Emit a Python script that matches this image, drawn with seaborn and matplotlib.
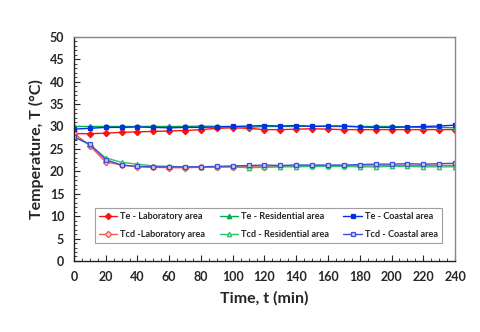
import numpy as np
import pandas as pd
import matplotlib.pyplot as plt
from matplotlib.ticker import MultipleLocator
import seaborn as sns

# Time axis (min)
time = list(range(0, 250, 10))

# Evaporator temperatures
te_lab = [28.4, 28.4, 28.5, 28.7, 28.8, 28.9, 29.0, 29.1, 29.3, 29.6, 29.7, 29.6, 29.3,
          29.3, 29.4, 29.5, 29.4, 29.3, 29.3, 29.3, 29.3, 29.3, 29.3, 29.3, 29.3]
te_res = [30.0, 30.0, 30.0, 30.0, 30.0, 30.0, 30.0, 30.0, 30.1, 30.0, 30.0, 29.8, 30.0,
          30.0, 30.0, 30.1, 30.0, 30.0, 30.0, 30.0, 30.0, 29.9, 29.8, 29.8, 29.7]
te_coast = [29.4, 29.6, 29.8, 29.8, 29.9, 29.8, 29.7, 29.8, 29.8, 29.9, 30.0, 30.1, 30.2,
            30.1, 30.2, 30.0, 30.1, 30.1, 29.9, 29.8, 29.8, 29.9, 30.0, 30.1, 30.3]

# Condenser temperatures
tcd_lab = [28.5, 25.7, 22.1, 21.4, 21.0, 20.9, 20.8, 20.8, 20.9, 20.9, 21.0, 21.0, 21.0,
           21.1, 21.2, 21.2, 21.2, 21.2, 21.2, 21.2, 21.3, 21.3, 21.3, 21.3, 21.3]
tcd_res = [27.8, 25.9, 23.0, 22.0, 21.6, 21.2, 21.1, 21.0, 21.0, 21.0, 21.0, 20.8, 20.9,
           21.0, 21.0, 21.1, 21.1, 21.1, 21.0, 21.0, 21.1, 21.1, 21.0, 21.0, 21.0]
tcd_coast = [27.6, 26.1, 22.6, 21.4, 21.1, 21.0, 21.0, 21.0, 21.0, 21.1, 21.2, 21.3, 21.4,
             21.3, 21.4, 21.4, 21.4, 21.4, 21.5, 21.6, 21.6, 21.7, 21.6, 21.7, 21.8]

labels = ['Te - Laboratory area', 'Tcd -Laboratory area',
          'Te - Residential area', 'Tcd - Residential area',
          'Te - Coastal area', 'Tcd - Coastal area']
series = [te_lab, tcd_lab, te_res, tcd_res, te_coast, tcd_coast]

sns.set_style("white")
plt.rcParams['font.family'] = ['Lato', 'DejaVu Sans']
plt.rcParams['font.weight'] = 'bold'

# line colour, marker, face colour for each series
styles = [('#FF1010', 'D', '#FF1010'), ('#FF5050', 'D', '#FFD0D0'),
          ('#00B050', '^', '#00B050'), ('#30C070', '^', '#D0F0DD'),
          ('#0030E0', 's', '#0030E0'), ('#4050D0', 's', '#C8CCF4')]

fig = plt.figure(figsize=(4.8, 3.32), dpi=100)
ax = fig.add_axes([0.154, 0.214, 0.794, 0.675])

for vals, lab, (col, mk, fc) in zip(series, labels, styles):
    df = pd.DataFrame({'t': time, 'T': vals})
    sns.lineplot(data=df, x='t', y='T', ax=ax, color=col, marker=mk, markersize=3.2,
                 markerfacecolor=fc, markeredgecolor=col, markeredgewidth=0.9,
                 linewidth=1.0, label=lab)

ax.set_xlim(0, 240)
ax.set_ylim(0, 50)
ax.xaxis.set_major_locator(MultipleLocator(20))
ax.xaxis.set_minor_locator(MultipleLocator(5))
ax.yaxis.set_major_locator(MultipleLocator(5))
ax.yaxis.set_minor_locator(MultipleLocator(1))
ax.tick_params(axis='both', which='major', direction='in', length=4, width=0.8,
               labelsize=9, pad=7, bottom=True, left=True)
ax.tick_params(axis='both', which='minor', direction='in', length=2, width=0.6,
               bottom=True, left=True)
for lbl in ax.get_xticklabels() + ax.get_yticklabels():
    lbl.set_fontweight('bold')

for side in ['top', 'right']:
    ax.spines[side].set_color('#888888')
    ax.spines[side].set_linewidth(1.0)
for side in ['left', 'bottom']:
    ax.spines[side].set_color('#222222')
    ax.spines[side].set_linewidth(1.0)

ax.set_xlabel('Time, t (min)', fontsize=11.5, fontweight='bold', labelpad=6)
ax.set_ylabel('Temperature, T (°C)', fontsize=11.5, fontweight='bold', labelpad=4)

leg = ax.legend(ncol=3, loc='lower center', bbox_to_anchor=(0.51, 0.058),
                fontsize=6.6, frameon=True, fancybox=False, edgecolor='#888888',
                handlelength=2.0, columnspacing=1.6, handletextpad=0.3,
                borderpad=0.45, labelspacing=1.0)
leg.get_frame().set_linewidth(0.8)

fig.savefig('out.png', dpi=100)
